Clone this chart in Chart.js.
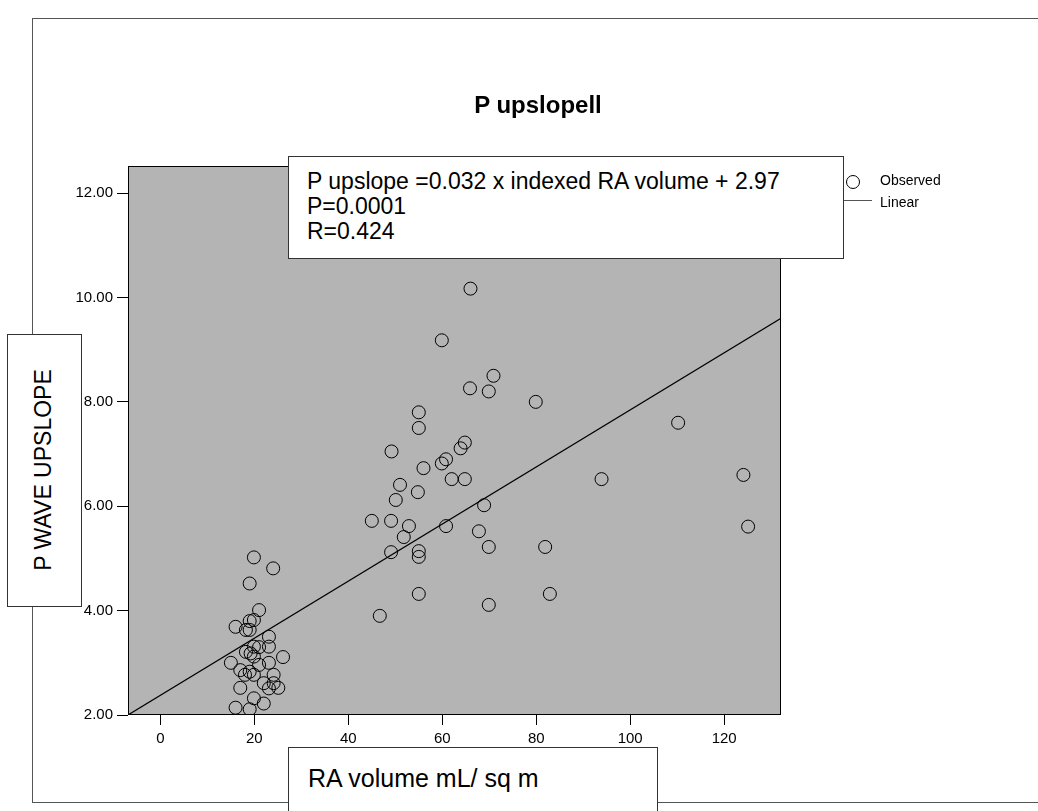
<!DOCTYPE html>
<html>
<head>
<meta charset="utf-8">
<title>P upslope scatter</title>
<script src="https://cdn.jsdelivr.net/npm/chart.js@4/dist/chart.umd.min.js"></script>
<style>
body { margin: 0; background: #fff; font-family: "Liberation Sans", Arial, sans-serif; color: #000; }
#wrap { position: relative; width: 1038px; height: 811px; overflow: hidden; }
#frame { position: absolute; left: 32px; top: 18px; width: 1100px; height: 783px; border: 1px solid #555; }
#myChart { position: absolute; left: 0; top: 0; }
.box { position: absolute; background: #fff; border: 1px solid #333; box-sizing: border-box; }
#title { position: absolute; left: 400px; width: 276px; top: 91px; line-height: 28px; text-align: center; font-weight: bold; font-size: 24px; }
#eqBox { left: 288px; top: 156px; width: 556px; height: 103px; padding: 12px 0 0 18px; font-size: 23px; line-height: 25px; }
#yTitleBox { left: 7px; top: 334px; width: 75px; height: 273px; }
#yTitle { position: absolute; left: 43px; top: 470px; transform: translate(-50%, -50%) rotate(-90deg); white-space: nowrap; font-size: 23px; }
#xTitleBox { left: 288px; top: 747px; width: 370px; height: 100px; padding: 15px 0 0 19px; font-size: 25px; line-height: 30px; }
.legCircle { position: absolute; left: 846px; top: 175px; width: 14px; height: 14px; border: 1px solid #000; border-radius: 50%; box-sizing: border-box; }
.legLine { position: absolute; left: 844px; top: 200px; width: 28px; height: 0; border-top: 1px solid #555; }
.legText { position: absolute; left: 880px; font-size: 14px; line-height: 18px; }
</style>
</head>
<body>
<div id="wrap">
  <div id="frame"></div>
  <canvas id="myChart" width="1038" height="811"></canvas>
  <div id="title">P upslopell</div>
  <div class="box" id="eqBox">P upslope =0.032 x indexed RA volume + 2.97<br>P=0.0001<br>R=0.424</div>
  <div class="legCircle"></div>
  <div class="legText" style="top:171px">Observed</div>
  <div class="legLine"></div>
  <div class="legText" style="top:193px">Linear</div>
  <div class="box" id="yTitleBox"></div>
  <div id="yTitle">P WAVE UPSLOPE</div>
  <div class="box" id="xTitleBox">RA volume mL/ sq m</div>
</div>
<script>
// axis ticks and ranges
const xTicks = [0, 20, 40, 60, 80, 100, 120];
const yTicks = [2, 4, 6, 8, 10, 12];
const xRange = [-6.9, 132.1];
const yRange = [2, 12.52];

// observed points (RA volume, P wave upslope)
const obsX = [19.9, 24.0, 19.0, 21.0, 19.9, 19.0, 16.0, 18.2, 19.0, 23.1, 18.2, 19.9, 21.0, 23.1, 19.2, 19.9, 26.1, 15.0, 21.0, 23.1,
  17.0, 18.0, 19.9, 19.0, 24.1, 22.0, 24.1, 25.1, 23.1, 17.0, 19.9, 22.0, 16.0, 19.0,
  45.0, 49.1, 52.9, 51.8, 49.1, 55.0, 55.0, 55.0, 46.7, 50.1, 51.0, 54.8, 56.0, 49.2, 55.0, 55.0,
  66.0, 59.9, 70.9, 65.9, 69.9, 79.9, 64.8, 63.9, 60.8, 59.9, 62.0, 64.8, 93.9, 68.9, 60.8, 67.8, 69.9, 81.9, 82.9, 69.9,
  110.2, 124.1, 125.1];
const obsY = [5.02, 4.81, 4.52, 4.01, 3.82, 3.80, 3.69, 3.63, 3.63, 3.50, 3.21, 3.31, 3.30, 3.31, 3.18, 3.12, 3.11, 3.00, 2.96, 3.00,
  2.86, 2.77, 2.77, 2.83, 2.77, 2.61, 2.61, 2.52, 2.51, 2.52, 2.32, 2.22, 2.14, 2.11,
  5.72, 5.72, 5.62, 5.41, 5.12, 5.14, 5.03, 4.32, 3.90, 6.12, 6.41, 6.27, 6.73, 7.05, 7.80, 7.50,
  10.17, 9.18, 8.50, 8.26, 8.20, 8.00, 7.22, 7.11, 6.90, 6.82, 6.52, 6.52, 6.52, 6.02, 5.62, 5.52, 5.22, 5.22, 4.32, 4.11,
  7.60, 6.60, 5.61];

// fitted line as drawn
const fitX = [-6.9, 132.1];
const fitY = [2.0, 9.6];

const fontFam = '"Liberation Sans", Arial, sans-serif';

const plotBox = {
  id: 'plotBox',
  beforeDatasetsDraw(chart) {
    const a = chart.chartArea;
    const ctx = chart.ctx;
    ctx.save();
    ctx.fillStyle = '#b4b4b4';
    ctx.fillRect(a.left, a.top, a.right - a.left, a.bottom - a.top);
    ctx.restore();
  },
  afterDraw(chart) {
    const a = chart.chartArea;
    const ctx = chart.ctx;
    ctx.save();
    ctx.strokeStyle = '#000';
    ctx.lineWidth = 1;
    ctx.strokeRect(a.left + 0.5, a.top + 0.5, a.right - a.left - 1, a.bottom - a.top - 1);
    ctx.restore();
  }
};

var ctx = document.getElementById('myChart').getContext('2d');

var myChart = new Chart(ctx, {
  data: {
    datasets: [{
      type: 'line',
      label: 'Linear',
      data: fitX.map((x, i) => ({ x: x, y: fitY[i] })),
      borderColor: '#000',
      borderWidth: 1.2,
      pointRadius: 0,
      fill: false
    }, {
      type: 'scatter',
      label: 'Observed',
      data: obsX.map((x, i) => ({ x: x, y: obsY[i] })),
      pointStyle: 'circle',
      pointRadius: 6.5,
      borderWidth: 1,
      borderColor: '#000',
      backgroundColor: 'rgba(0,0,0,0)'
    }]
  },
  options: {
    responsive: false,
    animation: false,
    layout: { padding: { left: 0, top: 166, right: 257, bottom: 56 } },
    plugins: { legend: { display: false }, tooltip: { enabled: false } },
    scales: {
      x: {
        type: 'linear',
        min: xRange[0],
        max: xRange[1],
        afterBuildTicks: s => { s.ticks = xTicks.map(v => ({ value: v })); },
        afterFit: s => { s.height = 40; },
        grid: { drawOnChartArea: false, drawTicks: true, tickLength: 10, tickColor: '#000' },
        border: { display: false },
        ticks: { color: '#000', padding: 5, font: { family: fontFam, size: 15 }, callback: v => String(v) }
      },
      y: {
        type: 'linear',
        min: yRange[0],
        max: yRange[1],
        afterBuildTicks: s => { s.ticks = yTicks.map(v => ({ value: v })); },
        afterFit: s => { s.width = 128; },
        grid: { drawOnChartArea: false, drawTicks: true, tickLength: 11, tickColor: '#000' },
        border: { display: false },
        ticks: { color: '#000', padding: 4, font: { family: fontFam, size: 15 }, callback: v => Number(v).toFixed(2) }
      }
    }
  },
  plugins: [plotBox]
});
</script>
</body>
</html>
